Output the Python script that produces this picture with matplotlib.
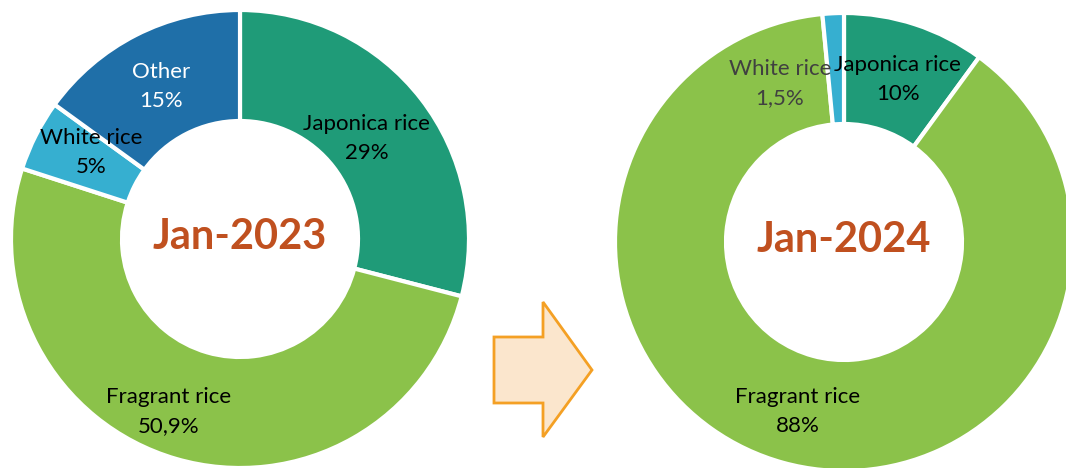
import numpy as np
import matplotlib
matplotlib.use("Agg")
import matplotlib.pyplot as plt
from matplotlib.patches import Polygon

plt.rcParams['font.family'] = ['Lato', 'DejaVu Sans']

# ---- data -------------------------------------------------------------
categories_2023 = ["Japonica rice", "Fragrant rice", "White rice", "Other"]
shares_2023 = [29, 50.9, 5, 15]
categories_2024 = ["Japonica rice", "Fragrant rice", "White rice"]
shares_2024 = [10, 88, 1.5]
period_labels = ["Jan-2023", "Jan-2024"]

colors = {
    "Japonica rice": "#1f9b78",
    "Fragrant rice": "#8bc24a",
    "White rice": "#36afd0",
    "Other": "#1f6fa8",
}
label_colors = {
    "2023": {"Other": "white"},
    "2024": {"White rice": "#404040"},
}
# small (angle in degrees, radius) nudges so neighbouring labels don't collide
label_nudge = {
    "2023": {"Japonica rice": (1.5, -10), "Fragrant rice": (-6.5, 11),
             "White rice": (-4, 0)},
    "2024": {"White rice": (19, 0)},
}

W, H = 1066, 468
fig = plt.figure(figsize=(W / 100, H / 100), dpi=100)
ax = fig.add_axes([0, 0, 1, 1])

R_OUT, R_IN = 229, 118
LABEL_SIZE = 16


def fmt(v):
    s = f"{v:g}%"
    return s.replace(".", ",")


def donut(cats, vals, center, key, title):
    wedges, _ = ax.pie(
        vals, colors=[colors[c] for c in cats], startangle=90,
        counterclock=False, center=center, radius=R_OUT,
        wedgeprops=dict(width=R_OUT - R_IN, edgecolor="white", linewidth=3),
    )
    r_mid = (R_OUT + R_IN) / 2
    for w, c, v in zip(wedges, cats, vals):
        da, dr = label_nudge.get(key, {}).get(c, (0, 0))
        ang = (w.theta1 + w.theta2) / 2 + da
        r = r_mid + dr
        x = center[0] + r * np.cos(np.radians(ang))
        y = center[1] + r * np.sin(np.radians(ang)) - 2.5
        col = label_colors.get(key, {}).get(c, "black")
        ax.text(x, y + 14.5, c, ha="center", va="center",
                fontsize=LABEL_SIZE, color=col)
        ax.text(x, y - 14.5, fmt(v), ha="center", va="center",
                fontsize=LABEL_SIZE, color=col)
    ax.text(center[0], center[1] + 2, title, ha="center", va="center",
            fontsize=30, fontweight="bold", color="#c0501f")


donut(categories_2023, shares_2023, (240, H - 239), "2023", period_labels[0])
donut(categories_2024, shares_2024, (844, H - 242), "2024", period_labels[1])

# block arrow between the two rings
arrow_pts = [(494, 337), (543, 337), (543, 302), (592, 370),
             (543, 437), (543, 403), (494, 403)]
ax.add_patch(Polygon([(x, H - y) for x, y in arrow_pts], closed=True,
                     facecolor="#fbe6cd", edgecolor="#f4a024", linewidth=2,
                     joinstyle="miter"))

ax.set_xlim(0, W)
ax.set_ylim(0, H)
ax.set_aspect("equal")
ax.axis("off")

fig.savefig("out.png", dpi=100, facecolor="white")
